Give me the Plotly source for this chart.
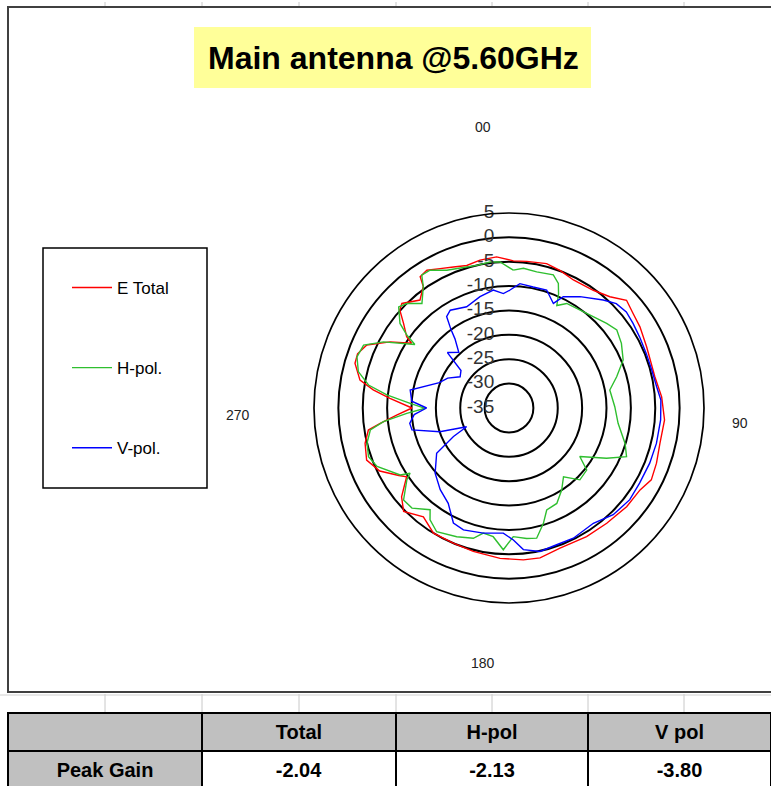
import plotly.graph_objects as go

# ---------------- data ----------------
title_text = "Main antenna @5.60GHz"
series_names = ["E Total", "H-pol.", "V-pol."]
series_colors = ["#ff0000", "#2fbf2f", "#0000ff"]

radial_ticks = [-35, -30, -25, -20, -15, -10, -5, 0, 5]
angle_labels = ["00", "90", "180", "270"]

red_theta = [1.7, 6.9, 14.6, 20.3, 26.7, 35.6, 42.2, 47.5, 52.7, 58.2, 66, 77.9, 85.8, 94.4,
             103.2, 110.5, 116.8, 122, 130, 139.7, 148.9, 160, 168.3, 174.6, 183.4, 194, 202.4,
             211.1, 218.2, 225.5, 230.4, 236.1, 238.5, 244, 249.9, 256.2, 261.1, 263.2, 266.4,
             270, 274.6, 277.6, 280.6, 286.2, 289.7, 293.9, 299.1, 303.6, 304.9, 308.7, 311.9,
             314.3, 320.5, 324.8, 325.9, 329.2, 333.7, 338.5, 343.5, 348.9, 355.3]
red_r = [-4.8, -4.7, -4.4, -4.9, -5.6, -5.3, -4.2, -2.3, -3.0, -3.4, -4.1, -4.4, -3.6, -3.0,
         -3.2, -2.7, -2.3, -3.3, -3.5, -4.0, -4.2, -4.4, -3.6, -3.7, -4.1, -4.7, -5.0,
         -5.0, -6.6, -4.7, -6.4, -9.7, -8.5, -5.5, -3.9, -4.6, -5.8, -8.4, -11.9,
         -15.1, -10.5, -6.9, -3.9, -2.1, -2.0, -3.1, -7.1, -11.0, -9.4, -7.3, -4.9,
         -4.3, -6.3, -4.5, -2.5, -2.1, -3.1, -3.9, -4.5, -4.1, -3.9]

green_theta = [1.8, 5.9, 11.5, 18.4, 21.6, 23.5, 25, 28.9, 39.4, 49.1, 54.1, 60.1, 67.2, 73.8,
               79.9, 89.3, 98, 107, 112.5, 117.3, 124.4, 128.6, 135.4, 141.6, 147.3, 153.4,
               159.7, 163.4, 168, 172.3, 178.1, 182.3, 187, 191.6, 195.3, 202.1, 210.3, 215.2,
               217.8, 224.1, 228.9, 234.9, 236.6, 238.4, 246.1, 250.9, 256.1, 261, 263.8, 267,
               269.8, 272.7, 276.1, 279.3, 283.6, 288.6, 293.4, 297.8, 304, 305.5, 307.8, 312.5,
               315.6, 320.2, 324.8, 326.7, 330.2, 335.7, 342, 347.3, 352.6, 356.5]
green_r = [-6.7, -6.2, -6.5, -6.2, -7.5, -9.5, -11.8, -10.5, -9.9, -8.5, -7.7, -8.4, -9.6, -12.0,
           -14.0, -13.3, -12.4, -10.1, -8.9, -12.5, -17.4, -14.6, -14.3, -17.0, -15.0, -13.1,
           -12.7, -10.3, -7.7, -8.0, -8.6, -5.9, -8.4, -8.8, -7.3, -6.5, -5.6, -6.9,
           -8.6, -6.4, -6.3, -9.4, -10.7, -8.8, -5.4, -4.5, -5.0, -6.2, -9.1, -14.0,
           -17.8, -14.7, -9.8, -5.8, -3.2, -2.1, -2.5, -5.9, -11.7, -9.3, -6.7, -4.3,
           -5.0, -7.1, -4.5, -2.4, -2.4, -4.0, -4.7, -5.0, -4.8, -5.0]

blue_theta = [0.5, 5, 11.3, 17.7, 23, 26, 32.5, 41.1, 45.8, 50.7, 55.7, 61.4, 68.3, 75.1, 81.8,
              87, 94.5, 103.5, 111.4, 119.9, 127.2, 135.7, 143.8, 153.7, 160.8, 167.8, 174.2,
              178.1, 182.6, 191.6, 200.5, 205.8, 212.5, 220.1, 228.6, 238, 242.8, 246.2, 251,
              257.3, 261.2, 266, 270, 274, 280.3, 290, 296, 302.6, 308, 312, 318, 322, 323.5,
              325.7, 329, 337.3, 345.4, 352.4, 357.2]
blue_r = [-10.8, -9.4, -9.7, -9.6, -11.7, -9.6, -7.9, -5.6, -4.3, -3.9, -4.2, -4.5, -4.7, -4.7, -4.4,
          -3.8, -3.8, -3.9, -4.0, -4.1, -3.9, -4.4, -5.7, -5.2, -5.3, -4.9, -5.8,
          -7.9, -9.3, -8.8, -8.3, -8.8, -11.8, -13.1, -14.8, -17.5, -22.2, -25.5, -20.0,
          -14.6, -14.4, -15.5, -18.1, -15.0, -14.4, -19.8, -21.0, -23.1, -22.5, -18.0, -19.6, -17.0, -15.0,
          -12.3, -11.6, -12.5, -11.4, -10.6, -11.5]

table_row_label = "Peak Gain"
table_headers = ["Total", "H-pol", "V pol"]
peak_gain = [-2.04, -2.13, -3.80]

# ---------------- figure ----------------
W, H = 771, 787
FONT = "Arial, 'Liberation Sans', sans-serif"


def px(x):
    return x / W


def py(y):
    return 1 - y / H


fig = go.Figure()

all_series = [(red_theta, red_r), (green_theta, green_r), (blue_theta, blue_r)]
for (th, rr), name, col in zip(all_series, series_names, series_colors):
    fig.add_trace(go.Scatterpolar(
        theta=th + [th[0]], r=rr + [rr[0]], mode="lines", name=name,
        line=dict(color=col, width=1.4), legendgroup=name,
    ))

# radial tick labels drawn through the polar scale
fig.add_trace(go.Scatterpolar(
    theta=[0] * len(radial_ticks), r=radial_ticks, mode="markers+text",
    text=[str(v) for v in radial_ticks], textposition="middle left",
    marker=dict(size=22, color="rgba(0,0,0,0)"),
    textfont=dict(family=FONT, size=19, color="#333333"),
    showlegend=False, hoverinfo="skip",
))

cx, cy, R = 509, 408, 195
fig.update_layout(
    width=W, height=H,
    margin=dict(l=0, r=0, t=0, b=0),
    paper_bgcolor="white",
    plot_bgcolor="white",
    showlegend=True,
    polar=dict(
        domain=dict(x=[px(cx - R), px(cx + R)], y=[py(cy + R), py(cy - R)]),
        bgcolor="white",
        radialaxis=dict(range=[-35, 5], tickvals=radial_ticks[1:], showticklabels=False,
                        ticks="", showline=False, gridcolor="black", gridwidth=1.7),
        angularaxis=dict(rotation=90, direction="clockwise", showgrid=False,
                         showticklabels=False, ticks="", showline=True,
                         linecolor="black", linewidth=1.7),
    ),
    legend=dict(
        x=px(67), y=py(270), xanchor="left", yanchor="top",
        bgcolor="rgba(0,0,0,0)", borderwidth=0,
        font=dict(family=FONT, size=17, color="black"),
        tracegroupgap=55, itemwidth=40,
    ),
)

# table drawn by plotly
fig.add_trace(go.Table(
    domain=dict(x=[px(8), 1], y=[0, py(713)]),
    columnwidth=[194, 194, 192, 183],
    header=dict(
        values=[""] + ["<b>%s</b>" % h for h in table_headers],
        fill_color="#c0c0c0", line=dict(color="black", width=1.5),
        align="center", height=38,
        font=dict(family=FONT, size=20, color="black"),
    ),
    cells=dict(
        values=[["<b>%s</b>" % table_row_label]] + [["<b>%.2f</b>" % v] for v in peak_gain],
        fill_color=[["#c0c0c0"], ["white"], ["white"], ["white"]],
        line=dict(color="black", width=1.5),
        align="center", height=35,
        font=dict(family=FONT, size=20, color="black"),
    ),
))

shapes = []
# yellow title box
shapes.append(dict(type="rect", xref="paper", yref="paper", x0=px(194), x1=px(591),
                   y0=py(88), y1=py(27), fillcolor="#ffff99", line=dict(width=0), layer="below"))
# chart frame
shapes.append(dict(type="rect", xref="paper", yref="paper", x0=px(8), x1=px(790),
                   y0=py(692), y1=py(7), line=dict(color="#404040", width=2), layer="below"))
# legend box
shapes.append(dict(type="rect", xref="paper", yref="paper", x0=px(43), x1=px(207),
                   y0=py(488), y1=py(248), line=dict(color="black", width=1.5)))
# spreadsheet grid lines between chart and table
for gx in [105, 202, 299, 396, 492, 588, 684]:
    shapes.append(dict(type="line", xref="paper", yref="paper", x0=px(gx), x1=px(gx),
                       y0=py(712), y1=py(694), line=dict(color="#c8c8c8", width=1), layer="below"))
    shapes.append(dict(type="line", xref="paper", yref="paper", x0=px(gx), x1=px(gx),
                       y0=py(6), y1=py(2), line=dict(color="#c8c8c8", width=1), layer="below"))
shapes.append(dict(type="line", xref="paper", yref="paper", x0=0, x1=1,
                   y0=py(695), y1=py(695), line=dict(color="#d0d0d0", width=1), layer="below"))
fig.update_layout(shapes=shapes)

annotations = [
    dict(text=title_text, x=px(394), y=py(58), xref="paper", yref="paper",
         showarrow=False, font=dict(family=FONT, size=32, color="black", weight="bold"),
         xanchor="center", yanchor="middle"),
]
angle_pos = {"00": (483, 127), "90": (740, 423), "180": (483, 663), "270": (238, 415)}
for lab in angle_labels:
    ax_, ay_ = angle_pos[lab]
    annotations.append(dict(text=lab, x=px(ax_), y=py(ay_), xref="paper", yref="paper",
                            showarrow=False, font=dict(family=FONT, size=14, color="#222222"),
                            xanchor="center", yanchor="middle"))
fig.update_layout(annotations=annotations)

fig.write_html(
    "out.html",
    config={"displayModeBar": False},
    post_script="document.body.style.margin='0';document.body.style.overflow='hidden';",
)
